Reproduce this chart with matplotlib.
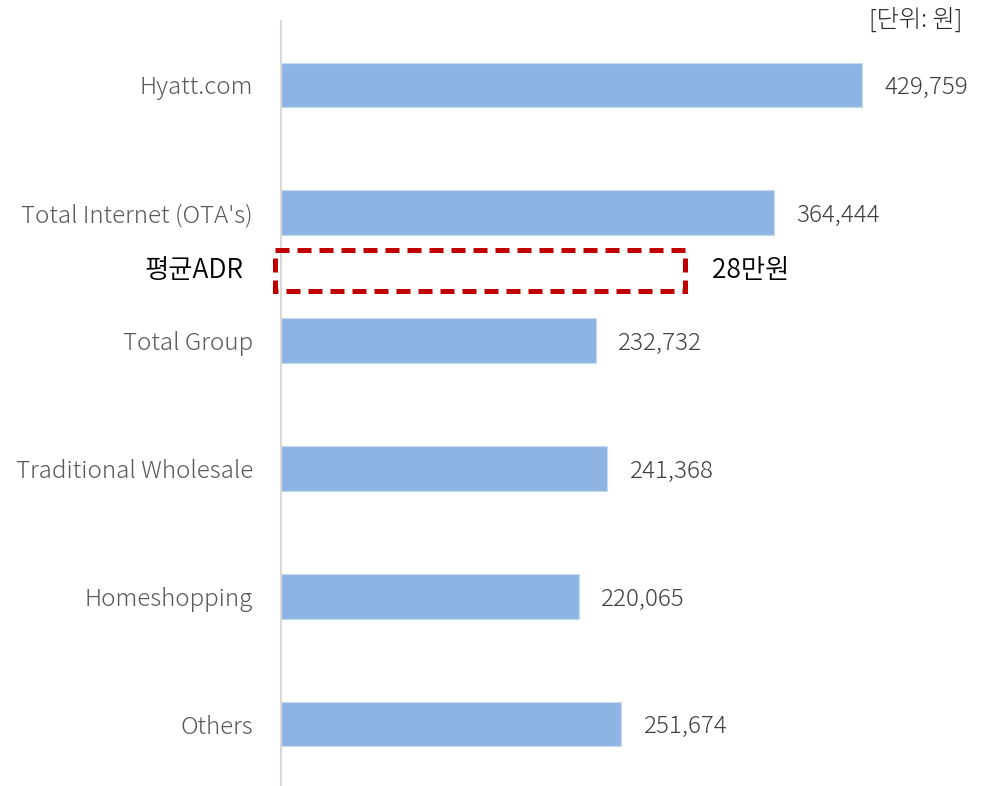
import matplotlib
matplotlib.use('Agg')
import matplotlib.pyplot as plt
from matplotlib.patches import Rectangle

plt.rcParams['font.family'] = ['Noto Sans CJK JP', 'DejaVu Sans']
plt.rcParams['font.weight'] = 'light'

channels = ['Hyatt.com', "Total Internet (OTA's)", 'Total Group',
            'Traditional Wholesale', 'Homeshopping', 'Others']
adr_values = [429759, 364444, 232732, 241368, 220065, 251674]
avg_label = '평균ADR'
avg_text = '28만원'
unit_text = '[단위: 원]'

BAR_COLOR = '#8EB4E3'
LABEL_GRAY = '#595959'
VALUE_GRAY = '#404040'
BOX_RED = '#C00000'
FS = 17.4


def main():
    fig = plt.figure(figsize=(9.88, 7.86), dpi=100)
    ax = fig.add_axes([281 / 988, -2 / 786, 676 / 988, 767 / 786])

    y = list(range(len(channels)))
    ax.barh(y, adr_values, height=0.35, color=BAR_COLOR, edgecolor='#C6DAF0', linewidth=0.8)
    ax.set_xlim(0, 500000)
    ax.set_ylim(len(channels) - 0.5, -0.5)

    for yi, v in zip(y, adr_values):
        ax.annotate(f'{v:,}', (v, yi), xytext=(16, -2), textcoords='offset points',
                    ha='left', va='center', fontsize=FS, color=VALUE_GRAY)

    ax.set_yticks(y)
    ax.set_yticklabels(channels, fontsize=FS, color=LABEL_GRAY)
    ax.tick_params(axis='y', length=0, pad=20)
    ax.set_xticks([])
    for s in ['top', 'right', 'bottom']:
        ax.spines[s].set_visible(False)
    ax.spines['left'].set_color('#D9D9D9')
    ax.spines['left'].set_linewidth(1.5)

    # average ADR highlight box between the 2nd and 3rd bars
    box_y = 1.45
    box = Rectangle((-4400, box_y - 0.16), 303000, 0.32, fill=False,
                    edgecolor=BOX_RED, linewidth=3.6, linestyle=(0, (2.8, 1.6)),
                    clip_on=False, zorder=5)
    ax.add_patch(box)
    ax.annotate(avg_label, (0, box_y), xytext=(-27, 0), textcoords='offset points',
                ha='right', va='center', fontsize=19, fontweight=350, color='black',
                annotation_clip=False)
    ax.annotate(avg_text, (298600, box_y), xytext=(20, 0), textcoords='offset points',
                ha='left', va='center', fontsize=19, fontweight=350, color='black',
                annotation_clip=False)

    fig.text(962 / 988, 1 - 20 / 786, unit_text, ha='right', va='center',
             fontsize=FS, color='#262626')

    fig.savefig('out.png', dpi=100)


if __name__ == '__main__':
    main()
